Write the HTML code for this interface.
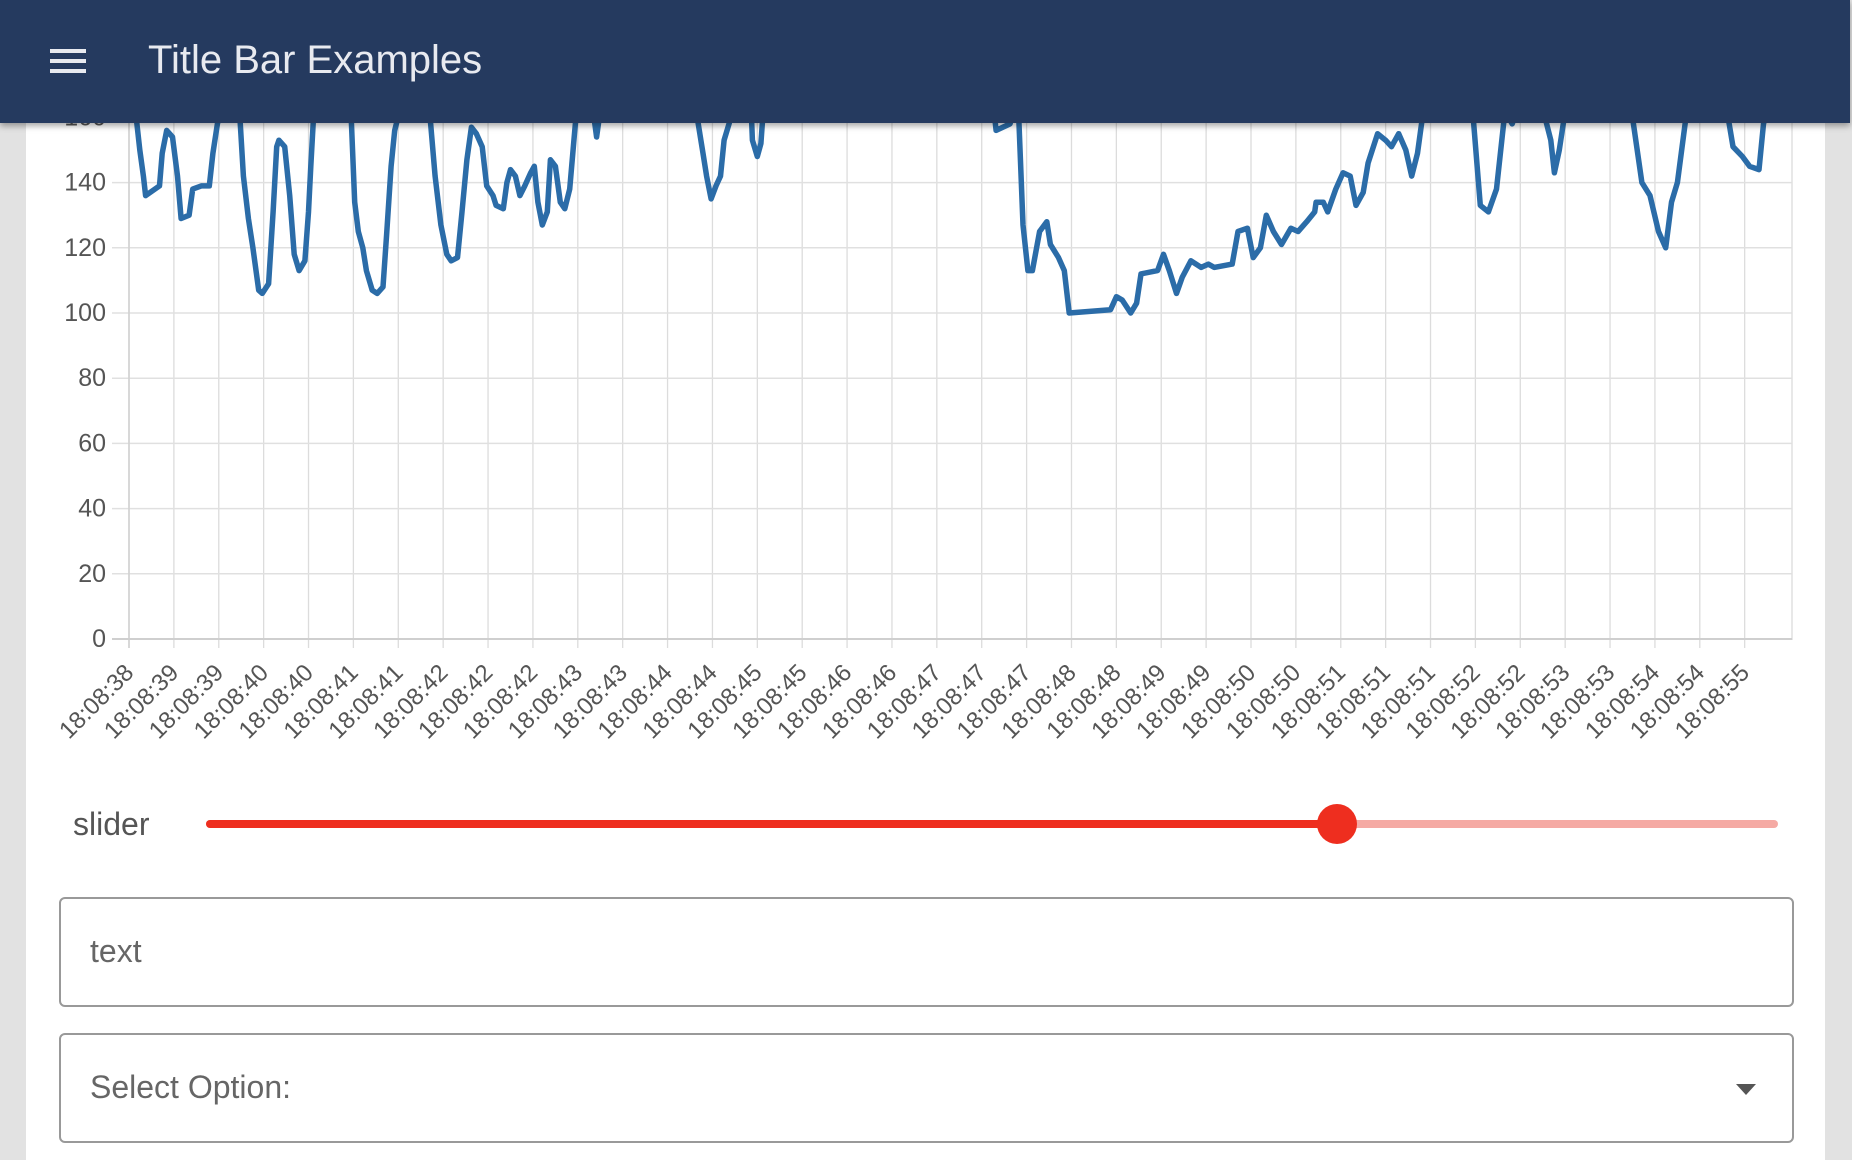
<!DOCTYPE html>
<html><head><meta charset="utf-8">
<style>
html,body{margin:0;padding:0;width:1852px;height:1160px;overflow:hidden;background:#fff;font-family:"Liberation Sans",sans-serif;}
#lbar{position:absolute;left:0;top:0;width:26px;height:1160px;background:#e2e2e2;}
#rbar{position:absolute;left:1825px;top:0;width:27px;height:1160px;background:#e2e2e2;}
#header{position:absolute;left:0;top:0;width:1850px;height:123px;background:#253a5f;box-shadow:0 3px 6px rgba(0,0,0,0.35);z-index:5;}
.hl{position:absolute;left:50px;width:36px;height:4px;background:#e8eaf0;}
#title{position:absolute;left:148px;top:37px;font-size:40px;color:#e8eaf0;line-height:46px;}
#chart{position:absolute;left:0;top:0;}
#slabel{position:absolute;left:73px;top:806px;font-size:32px;color:#555;}
.box{position:absolute;left:59px;width:1731px;border:2px solid #999;border-radius:6px;background:#fff;}
.box span{position:absolute;left:29px;font-size:32px;color:#666;}
</style></head><body>
<div id="lbar"></div>
<div id="rbar"></div>
<svg id="chart" width="1852" height="1160"></svg>
<div id="header">
  <div>
    <div class="hl" style="top:49px"></div><div class="hl" style="top:59px"></div><div class="hl" style="top:69px"></div>
  </div>
  <div id="title">Title Bar Examples</div>
</div>
<div id="slabel">slider</div>
<svg style="position:absolute;left:0;top:800px" width="1852" height="50">
  <line x1="210" y1="24" x2="1774" y2="24" stroke="#f5aaa4" stroke-width="8" stroke-linecap="round"/>
  <line x1="210" y1="24" x2="1337" y2="24" stroke="#ee2e1f" stroke-width="8" stroke-linecap="round"/>
  <circle cx="1337" cy="24" r="20" fill="#ee2e1f"/>
</svg>
<div class="box" style="top:897px;height:106px"><span style="top:34px">text</span></div>
<div class="box" style="top:1033px;height:106px"><span style="top:34px">Select Option:</span>
  <svg style="position:absolute;left:1674px;top:48px" width="22" height="14"><polygon points="1,1 21,1 11,12" fill="#555"/></svg>
</div>
<script>
const yTicks=[0,20,40,60,80,100,120,140,160];
const xLabels=["18:08:38","18:08:39","18:08:39","18:08:40","18:08:40","18:08:41","18:08:41","18:08:42","18:08:42","18:08:42","18:08:43","18:08:43","18:08:44","18:08:44","18:08:45","18:08:45","18:08:46","18:08:46","18:08:47","18:08:47","18:08:47","18:08:48","18:08:48","18:08:49","18:08:49","18:08:50","18:08:50","18:08:51","18:08:51","18:08:51","18:08:52","18:08:52","18:08:53","18:08:53","18:08:54","18:08:54","18:08:55"];
const times=[0.1,0.16,0.24,0.32,0.37,0.68,0.74,0.84,0.97,1.08,1.16,1.34,1.42,1.61,1.79,1.87,1.97,2.26,2.47,2.55,2.66,2.76,2.89,2.97,3.11,3.21,3.29,3.34,3.47,3.58,3.68,3.79,3.92,4.00,4.05,4.11,4.50,4.95,5.03,5.11,5.21,5.29,5.42,5.53,5.66,5.74,5.84,5.92,6.03,6.34,6.71,6.82,6.95,7.08,7.18,7.32,7.42,7.53,7.63,7.74,7.87,7.97,8.11,8.18,8.34,8.42,8.50,8.61,8.71,8.82,8.95,9.03,9.11,9.21,9.32,9.39,9.50,9.61,9.71,9.82,9.92,9.97,10.16,10.34,10.42,10.50,11.61,12.66,12.79,12.87,12.97,13.08,13.18,13.26,13.37,13.45,13.66,13.87,13.89,14.00,14.08,14.13,16.87,19.29,19.32,19.63,19.71,19.82,19.92,20.03,20.13,20.29,20.45,20.53,20.71,20.84,20.95,21.87,22.00,22.13,22.32,22.45,22.55,22.92,23.05,23.18,23.34,23.47,23.66,23.89,24.05,24.18,24.58,24.71,24.92,25.05,25.21,25.34,25.50,25.68,25.89,26.05,26.24,26.42,26.45,26.61,26.71,26.89,27.05,27.21,27.34,27.50,27.61,27.82,28.00,28.13,28.29,28.45,28.58,28.71,28.84,29.37,29.95,30.11,30.29,30.47,30.66,30.82,30.92,31.24,31.55,31.68,31.76,31.87,32.00,32.79,33.50,33.71,33.89,34.08,34.24,34.37,34.50,34.71,35.16,35.63,35.74,35.95,36.11,36.32,36.42,36.53];
const values=[175,160,150,142,136,139,149,156,154,142,129,130,138,139,139,149,158,175,160,142,129,120,107,106,109,131,151,153,151,136,118,113,116,131,145,160,175,160,134,125,120,113,107,106,108,124,145,156,162,175,160,142,127,118,116,117,131,147,157,155,151,139,136,133,132,140,144,142,136,139,143,145,134,127,131,147,145,134,132,138,154,162,170,162,154,162,175,160,149,142,135,139,142,153,158,162,170,160,153,148,152,162,175,160,156,158,162,162,127,113,113,125,128,121,117,113,100,101,105,104,100,103,112,113,118,113,106,111,116,114,115,114,115,125,126,117,120,130,125,121,126,125,128,131,134,134,131,138,143,142,133,137,146,155,153,151,155,150,142,149,162,175,160,133,131,138,162,158,162,175,160,153,143,150,162,175,160,140,136,125,120,134,140,162,175,160,151,148,145,144,158,165];
const NS="http://www.w3.org/2000/svg";
const svg=document.getElementById('chart');
const X0=129,XSTEP=44.88,XR=1792,Y0=639,YU=3.26;
function xs(t){return X0+t*XSTEP;}
function ys(v){return Y0-v*YU;}
function mk(tag,attrs){const e=document.createElementNS(NS,tag);for(const k in attrs)e.setAttribute(k,attrs[k]);svg.appendChild(e);return e;}
xLabels.forEach((lab,i)=>{
  const x=xs(i);
  const g=mk('line',{x1:x,y1:60,x2:x,y2:648,stroke:'#dcdcdc','stroke-width':1.3});
  
  
  const t=mk('text',{x:x+6,y:674,'text-anchor':'end','font-size':24,fill:'#555',transform:`rotate(-45 ${x+6} 674)`});
  t.textContent=lab;
  
  
});
const ex=mk('line',{x1:XR,y1:60,x2:XR,y2:640,stroke:'#dcdcdc','stroke-width':1.3});


yTicks.forEach(v=>{
  const y=ys(v);
  const l=mk('line',{x1:112,y1:y,x2:XR,y2:y,stroke:v===0?'#cfcfcf':'#e0e0e0','stroke-width':v===0?2:1.5});
  
  
  const t=mk('text',{x:106,y:y+8,'text-anchor':'end','font-size':25,fill:'#555'});
  t.textContent=v;
  
  
});
const ax=mk('line',{x1:X0,y1:60,x2:X0,y2:648,stroke:'#cfcfcf','stroke-width':1.5});


const d=times.map((t,i)=>(i?'L':'M')+xs(t).toFixed(1)+','+ys(values[i]).toFixed(1)).join(' ');
const p=mk('path',{d:d,fill:'none',stroke:'#2b6ca8','stroke-width':5.5,'stroke-linejoin':'round'});


</script>
</body></html>
